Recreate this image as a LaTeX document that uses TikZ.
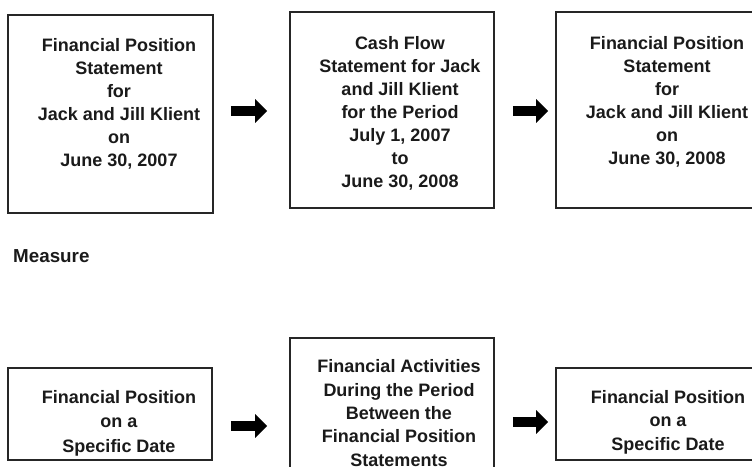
\documentclass[tikz,border=0pt]{standalone}
\usepackage{fontspec}
\setmainfont{Liberation Sans}
\usetikzlibrary{positioning, arrows.meta, calc}
\definecolor{borderMain}{HTML}{262626}
\definecolor{textMain}{HTML}{1A1A1A}
\definecolor{arrowFill}{HTML}{000000}
\tikzset{
  stmtbox/.style={draw=borderMain, line width=1.6pt, fill=white,
    inner sep=0pt},
  stmttext/.style={font=\bfseries\fontsize{18}{23}\selectfont, text=textMain,
    align=center, inner sep=0pt, anchor=base},
  blockarrow/.style={-{Triangle[length=12pt, width=23pt]}, line width=10.5pt,
    color=arrowFill, line cap=butt},
}
\begin{document}
\begin{tikzpicture}[x=1pt, y=1pt]

  \useasboundingbox (0,0) rectangle (752,466);
  \clip (0,0) rectangle (752,466);

  % === Top row: statements for the Klients ===
  \node[stmtbox, minimum width=205pt, minimum height=198pt] (fps07) at (110.5,352) {};
  \node[stmtbox, minimum width=204pt, minimum height=196pt] (cfs) at (392,356) {};
  \node[stmtbox, minimum width=206pt, minimum height=196pt] (fps08) at (659,356) {};

  % text nodes sit on the baseline of their last line
  \node[stmttext] (fps07txt) at (119,299) {Financial Position\\Statement\\for\\Jack and Jill Klient\\on\\June 30, 2007};
  \node[stmttext] (cfstxt) at (400,278) {Cash Flow\\Statement for Jack\\and Jill Klient\\for the Period\\July 1, 2007\\to\\June 30, 2008};
  \node[stmttext] (fps08txt) at (667,301) {Financial Position\\Statement\\for\\Jack and Jill Klient\\on\\June 30, 2008};

  % === Arrows in top row ===
  \draw[blockarrow] ($(fps07.east)+(17,3)$) -- ($(cfs.west)+(-22,-1)$);
  \draw[blockarrow] ($(cfs.east)+(18,-1)$) -- ($(fps08.west)+(-7,-1)$);

  % === Label between the rows ===
  \node[font=\bfseries\fontsize{18.8}{23}\selectfont, text=textMain, inner sep=0pt,
    anchor=base west] (measure) at (13,203) {Measure};

  % === Bottom row: what is measured ===
  \node[stmtbox, minimum width=204pt, minimum height=92pt] (posA) at (110,52) {};
  \node[stmtbox, minimum width=204pt, minimum height=154pt] (act) at (392,51) {};
  \node[stmtbox, minimum width=206pt, minimum height=92pt] (posB) at (659,52) {};

  \node[stmttext, font=\bfseries\fontsize{18}{24.5}\selectfont] (posAtxt) at (119,14) {Financial Position\\on a\\Specific Date};
  \node[stmttext, font=\bfseries\fontsize{18}{23.3}\selectfont] (acttxt) at (399,0) {Financial Activities\\During the Period\\Between the\\Financial Position\\Statements};
  \node[stmttext, font=\bfseries\fontsize{18}{23.5}\selectfont] (posBtxt) at (668,16) {Financial Position\\on a\\Specific Date};

  % === Arrows in bottom row ===
  \draw[blockarrow] ($(posA.east)+(18,-12)$) -- ($(act.west)+(-22,-11)$);
  \draw[blockarrow] ($(act.east)+(18,-7)$) -- ($(posB.west)+(-7,-8)$);

\end{tikzpicture}
\end{document}
